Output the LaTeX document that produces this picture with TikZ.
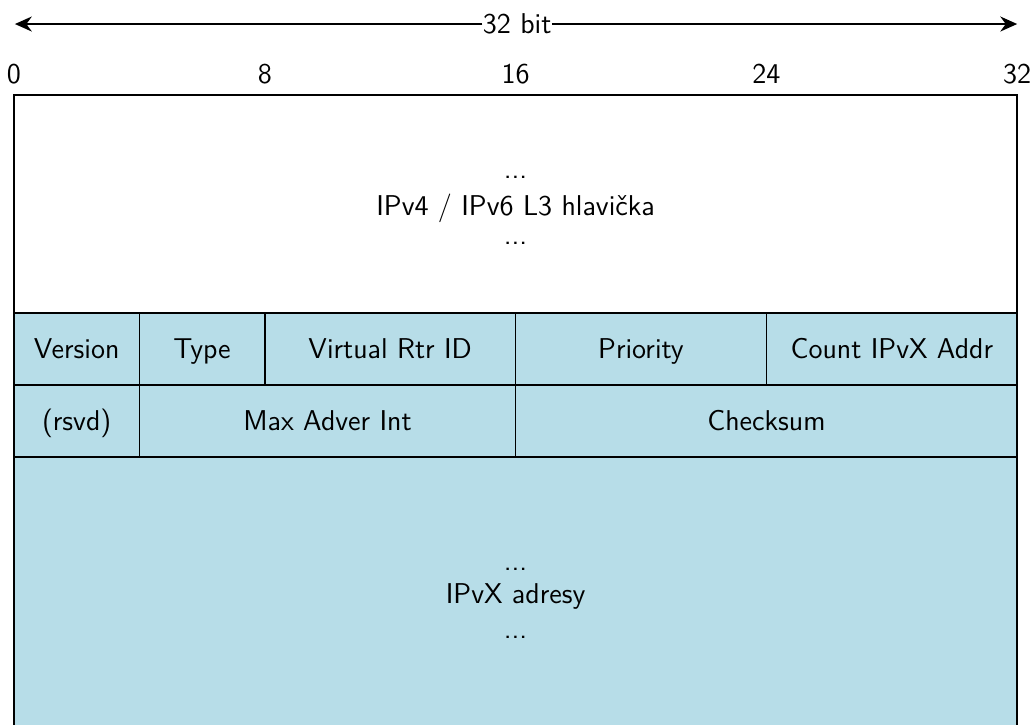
\documentclass[tikz,border=0pt]{standalone}
\usetikzlibrary{positioning,arrows.meta}
\definecolor{fieldblue}{RGB}{183,221,232}

\begin{document}
\begin{tikzpicture}[
  x=0.5cm, y=1cm,
  field/.style={rectangle, draw, thick, fill=fieldblue, minimum width=#1*0.5cm, minimum height=1.148cm,
    inner sep=0pt, outer sep=0pt, anchor=north west, text height=11pt, text depth=2pt},
  txt/.style={anchor=base, inner sep=0pt},
  font=\sffamily\fontsize{13}{16}\selectfont
]
\useasboundingbox (-0.446,-11.547) rectangle (32.568,0);

% width arrow
\node[inner sep=0pt] (width) at (16.05,-0.383) {32 bit};
\coordinate (wl) at (0.03,-0.383);
\coordinate (wr) at (32,-0.383);
\draw[thick,-{Stealth[length=2.7mm,width=2.4mm]}] (width) -- (wl);
\draw[thick,-{Stealth[length=2.7mm,width=2.4mm]}] (width) -- (wr);

% bit numbers
\foreach \b in {0,8,...,32}
  \node[anchor=base] (bit\b) at (\b,-1.324) {\b};

% L3 header
\node[field=32, fill=white, minimum height=3.477cm, text height=, text depth=] (header) at (0,-1.515) {};
\node[txt] (hdots1) at (16,-2.839) {...};
\node[txt] (htext) at (16,-3.429) {IPv4 / IPv6 L3 hlavička};
\node[txt] (hdots2) at (16,-3.907) {...};

% first row
\node[field=4, below right=0pt and 0pt of header.south west] (version) {Version};
\node[field=4, right=0pt of version] (type) {Type};
\node[field=8, right=0pt of type] (vrid) {Virtual Rtr ID};
\node[field=8, right=0pt of vrid] (priority) {Priority};
\node[field=8, right=0pt of priority] (count) {Count IPvX Addr};

% second row
\node[field=4, below right=0pt and 0pt of version.south west] (rsvd) {(rsvd)};
\node[field=12, right=0pt of rsvd] (maxadv) {Max Adver Int};
\node[field=16, right=0pt of maxadv] (checksum) {Checksum};

% addresses
\node[field=32, minimum height=4.6cm, below right=0pt and 0pt of rsvd.south west] (addrs) {};
\node[txt] (adots1) at (16,-9.091) {...};
\node[txt] (atext) at (16,-9.617) {IPvX adresy};
\node[txt] (adots2) at (16,-10.175) {...};
\end{tikzpicture}
\end{document}
